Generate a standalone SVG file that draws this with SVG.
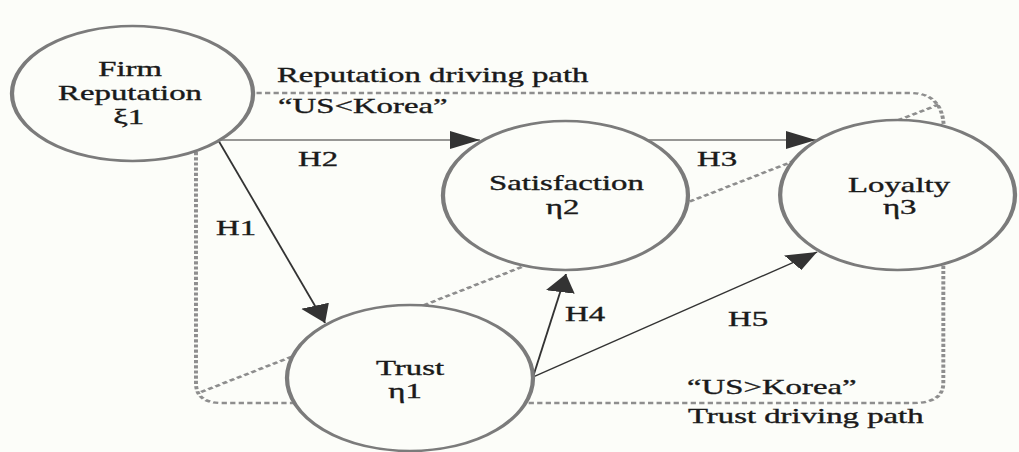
<svg xmlns="http://www.w3.org/2000/svg" width="1019" height="452" viewBox="0 0 1019 452">
  <defs>
    <style>
      .node ellipse { fill: #fcfdf9; stroke: #7b7b7b; stroke-width: 2.6; }
      text { font-family: "Liberation Serif", "Times New Roman", serif; font-size: 20px; fill: #1a1a1a; stroke: #1a1a1a; stroke-width: 0.35; }
      .node text { text-anchor: middle; }
      .route { fill: none; stroke: #8e8e8e; stroke-width: 2.4; stroke-dasharray: 3.2 2; }
      .arrow { fill: none; stroke: #333333; stroke-width: 1.2; marker-end: url(#head); }
    </style>
    <marker id="head" markerUnits="userSpaceOnUse" viewBox="0 0 18.3 18" markerWidth="18.3" markerHeight="18" refX="18.3" refY="9" orient="auto">
      <path d="M0,0 L18.3,9 L0,18 z" fill="#333333"/>
    </marker>
  </defs>

  <rect width="1019" height="452" fill="#fcfdf9"/>

  <!-- drawing is laid out in narrow units and widened horizontally -->
  <g transform="scale(1.64,1)">
    <g id="connectors">
      <!-- dashed driving paths -->
      <path class="route" d="M120,93 H555 Q575,93 575.5,128"/>
      <path class="route" d="M122.6,392 L573.2,104"/>
      <path class="route" d="M119.5,152 V383 Q119.5,403 135,403 H556.5 Q575.2,403 575.2,383 V262"/>
      <!-- hypothesis arrows -->
      <path class="arrow" d="M130,140 H292.7"/>
      <path class="arrow" d="M390,140 H497.5"/>
      <path class="arrow" d="M133,140 L198.2,323"/>
      <path class="arrow" d="M325,377 L345.1,274"/>
      <path class="arrow" d="M325,377 L498.2,252"/>
      <!-- labels -->
      <text x="168.9" y="82">Reputation driving path</text>
      <text x="169.5" y="113">“US&lt;Korea”</text>
      <text x="181.7" y="166">H2</text>
      <text x="425" y="166">H3</text>
      <text x="131.7" y="235">H1</text>
      <text x="344.5" y="321">H4</text>
      <text x="443.9" y="326">H5</text>
      <text x="418.9" y="394">“US&gt;Korea”</text>
      <text x="419.5" y="423">Trust driving path</text>
    </g>

    <g id="firm-reputation" class="node">
      <ellipse cx="80.8" cy="93.5" rx="73.5" ry="67.5"/>
      <text x="79.3" y="76">Firm</text>
      <text x="79.3" y="100">Reputation</text>
      <text x="78.5" y="124">ξ1</text>
    </g>

    <g id="satisfaction" class="node">
      <ellipse cx="344.8" cy="195.5" rx="74.7" ry="74.5"/>
      <text x="345.4" y="190">Satisfaction</text>
      <text x="343" y="214">η2</text>
    </g>

    <g id="loyalty" class="node">
      <ellipse cx="547.3" cy="195" rx="71.6" ry="75"/>
      <text x="548.2" y="192">Loyalty</text>
      <text x="548.6" y="214">η3</text>
    </g>

    <g id="trust" class="node">
      <ellipse cx="250" cy="378" rx="75" ry="73"/>
      <text x="250" y="375">Trust</text>
      <text x="247" y="398">η1</text>
    </g>
  </g>
</svg>
